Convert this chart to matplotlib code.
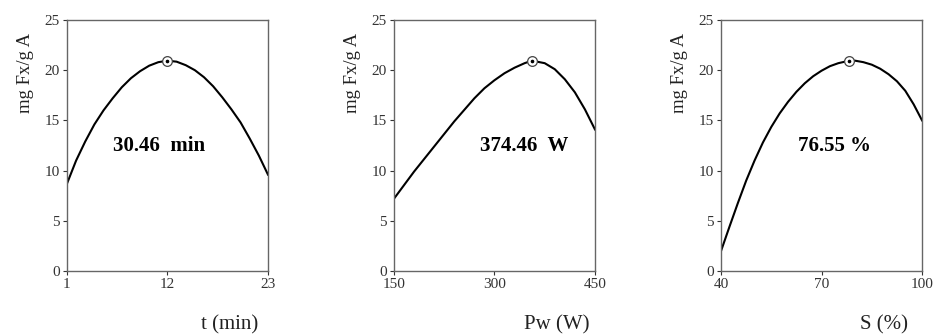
import matplotlib
matplotlib.use("Agg")
from matplotlib import pyplot as plt

# values
t_min = [1, 2, 3, 4, 5, 6, 7, 8, 9, 10, 11, 12, 13, 14, 15, 16, 17, 18, 19, 20, 21, 22, 23]
y_t = [8.7, 11.0, 12.9, 14.6, 16.0, 17.2, 18.3, 19.2, 19.9, 20.45, 20.8, 20.95, 20.85, 20.5, 20.0, 19.3, 18.4, 17.3, 16.1, 14.8, 13.2, 11.5, 9.6]

pw_w = [150, 165, 180, 195, 210, 225, 240, 255, 270, 285, 300, 315, 330, 345, 356,
        375, 390, 405, 420, 435, 450]
y_pw = [7.2, 8.55, 9.9, 11.15, 12.4, 13.65, 14.9, 16.05, 17.2, 18.2, 19.0, 19.7, 20.25, 20.7, 20.95,
        20.7, 20.1, 19.1, 17.8, 16.1, 14.1]

s_pct = [40, 42.5, 45, 47.5, 50, 52.5, 55, 57.5, 60, 62.5, 65, 67.5, 70, 72.5, 75, 78.3,
         80, 82.5, 85, 87.5, 90, 92.5, 95, 97.5, 100]
y_s = [2.0, 4.4, 6.75, 9.0, 11.0, 12.8, 14.35, 15.7, 16.85, 17.85, 18.7, 19.4, 19.95, 20.4, 20.7, 20.95,
       20.95, 20.8, 20.55, 20.15, 19.6, 18.9, 17.95, 16.6, 15.0]

opt_x = [12, 356, 78.3]
opt_y = [20.9, 20.9, 20.9]
opt_labels = ["30.46  min", "374.46  W", "76.55 %"]
x_labels = ["t (min)", "Pw (W)", "S (%)"]
x_ticks = [[1, 12, 23], [150, 300, 450], [40, 70, 100]]
y_ticks = [0, 5, 10, 15, 20, 25]
y_label = "mg Fx/g A"

plt.rcParams["font.family"] = ["Liberation Serif", "DejaVu Serif"]

fig = plt.figure(figsize=(9.34, 3.34), dpi=100)
lefts = [0.0717, 0.4218, 0.7720]
text_x = [0.46, 0.65, 0.565]
curves = [(t_min, y_t), (pw_w, y_pw), (s_pct, y_s)]

for i in range(3):
    ax = fig.add_axes([lefts[i], 0.1886, 0.2152, 0.7515])
    xs, ys = curves[i]
    ax.plot(xs, ys, "-k", lw=1.5)
    ax.plot(opt_x[i], opt_y[i], "o", ms=7, mfc="white", mec="#444444", mew=0.9)
    ax.plot(opt_x[i], opt_y[i], "o", ms=1.6, color="k")
    ax.set_xlim(x_ticks[i][0], x_ticks[i][-1])
    ax.set_ylim(0, 25)
    ax.set_xticks(x_ticks[i])
    ax.set_yticks(y_ticks)
    ax.tick_params(labelsize=11, length=3, width=0.8, colors="#333333", pad=2)
    for s in ax.spines.values():
        s.set_color("#666666")
        s.set_linewidth(1.0)
    ax.set_ylabel(y_label, fontsize=13.5, color="#222222")
    ax.yaxis.set_label_coords(-0.165, 0.79)
    ax.set_xlabel(x_labels[i], fontsize=15, color="#222222")
    ax.xaxis.set_label_coords(0.81, -0.175)
    ax.text(text_x[i], 0.50, opt_labels[i], transform=ax.transAxes,
            ha="center", va="center", fontsize=15, fontweight="bold")

plt.savefig("out.png", dpi=100)
